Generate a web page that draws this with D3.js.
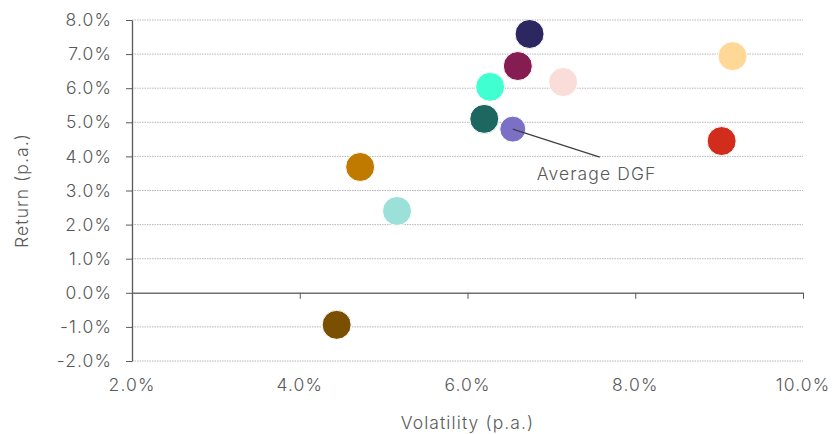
<!DOCTYPE html>
<html>
  <head>
    <style>
    body {
        margin: 0px;
        overflow: hidden;
        background: #fff;
    }

    svg {
        display: block;
    }

    text {
        font-family: Inter, sans-serif;
        font-weight: 300;
        fill: #595959;
        letter-spacing: 1.1px;
    }

    .tick text {
        font-size: 17.5px;
    }

    .axis-label {
        font-size: 17.5px;
    }
    </style>
    <script src="https://d3js.org/d3.v7.min.js"></script>
  </head>
  <body>
    <svg width="833" height="434"></svg>
    <script>
        const names = ['A', 'B', 'C', 'D', 'E', 'Average DGF', 'F', 'G', 'H', 'I', 'J'];
        const volatility = [6.74, 6.60, 7.14, 6.27, 6.20, 6.54, 4.72, 5.16, 9.16, 9.03, 4.44];
        const returns = [7.59, 6.65, 6.18, 6.04, 5.10, 4.80, 3.69, 2.40, 6.94, 4.45, -0.94];
        const colors = ['#2c2760', '#861d52', '#fadcd9', '#40ffd0', '#1e6660', '#7b6fc6',
                        '#c17a00', '#9ce0da', '#ffd898', '#d22d1c', '#7a4f00'];
        const xTicks = [2, 4, 6, 8, 10];
        const yTicks = [-2, -1, 0, 1, 2, 3, 4, 5, 6, 7, 8];

        const data = names.map((n, i) => ({name: n, x: volatility[i], y: returns[i], color: colors[i]}));

        const svg = d3.select('svg');
        const margin = { top: 20, right: 30, bottom: 73, left: 132 };
        const innerWidth = 803 - margin.left;
        const innerHeight = 361 - margin.top;

        const xScale = d3.scaleLinear().domain([2, 10]).range([0, innerWidth]);
        const yScale = d3.scaleLinear().domain([-2, 8]).range([innerHeight, 0]);

        const g = svg.append('g')
            .attr('transform', `translate(${margin.left},${margin.top})`);

        // dotted gridlines
        g.selectAll('.grid').data(yTicks.filter(d => d !== 0))
            .enter().append('line')
            .attr('x1', 0).attr('x2', innerWidth)
            .attr('y1', d => yScale(d)).attr('y2', d => yScale(d))
            .attr('stroke', '#b8b8b8')
            .attr('stroke-width', 1)
            .attr('stroke-dasharray', '1.5,1');

        // y axis
        const yAxis = d3.axisLeft(yScale)
            .tickValues(yTicks)
            .tickFormat(d => d.toFixed(1) + '%')
            .tickSize(6)
            .tickSizeOuter(0)
            .tickPadding(14);
        const yAxisG = g.append('g').call(yAxis);
        yAxisG.selectAll('line').attr('stroke', '#595959');
        yAxisG.select('.domain').attr('stroke', '#595959').attr('stroke-width', 1.3);
        yAxisG.attr('font-family', null);

        // x axis line at zero with ticks, labels kept at the bottom
        const xAxisG = g.append('g')
            .attr('transform', `translate(0,${yScale(0)})`)
            .call(d3.axisBottom(xScale).tickValues(xTicks).tickSize(6).tickSizeOuter(0));
        xAxisG.selectAll('text').remove();
        xAxisG.selectAll('line').attr('stroke', '#595959');
        xAxisG.select('.domain').attr('stroke', '#6f6f6f').attr('stroke-width', 1.5);

        g.selectAll('.xlab').data(xTicks)
            .enter().append('text')
            .attr('class', 'xlab')
            .attr('x', d => xScale(d))
            .attr('y', innerHeight + 30)
            .attr('text-anchor', 'middle')
            .attr('font-size', '17.5px')
            .text(d => d.toFixed(1) + '%');

        g.append('text')
            .attr('class', 'axis-label')
            .attr('x', innerWidth / 2)
            .attr('y', innerHeight + 68)
            .attr('text-anchor', 'middle')
            .text('Volatility (p.a.)');

        g.append('text')
            .attr('class', 'axis-label')
            .attr('transform', 'rotate(-90)')
            .attr('x', -innerHeight / 2)
            .attr('y', -104)
            .attr('text-anchor', 'middle')
            .text('Return (p.a.)');

        const avg = data.find(d => d.name === 'Average DGF');

        g.selectAll('circle').data(data)
            .enter().append('circle')
            .attr('cx', d => xScale(d.x))
            .attr('cy', d => yScale(d.y))
            .attr('r', d => d.name === 'Average DGF' ? 13 : 14.5)
            .attr('fill', d => d.color)
            .attr('stroke', '#fff')
            .attr('stroke-width', 1);

        // annotation
        g.append('line')
            .attr('x1', xScale(avg.x)).attr('y1', yScale(avg.y))
            .attr('x2', xScale(avg.x) + 87).attr('y2', yScale(avg.y) + 28)
            .attr('stroke', '#404040')
            .attr('stroke-width', 1.3);

        g.append('text')
            .attr('x', xScale(avg.x) + 24)
            .attr('y', yScale(avg.y) + 51)
            .attr('font-size', '17.5px')
            .text('Average DGF');
    </script>
  </body>
</html>
